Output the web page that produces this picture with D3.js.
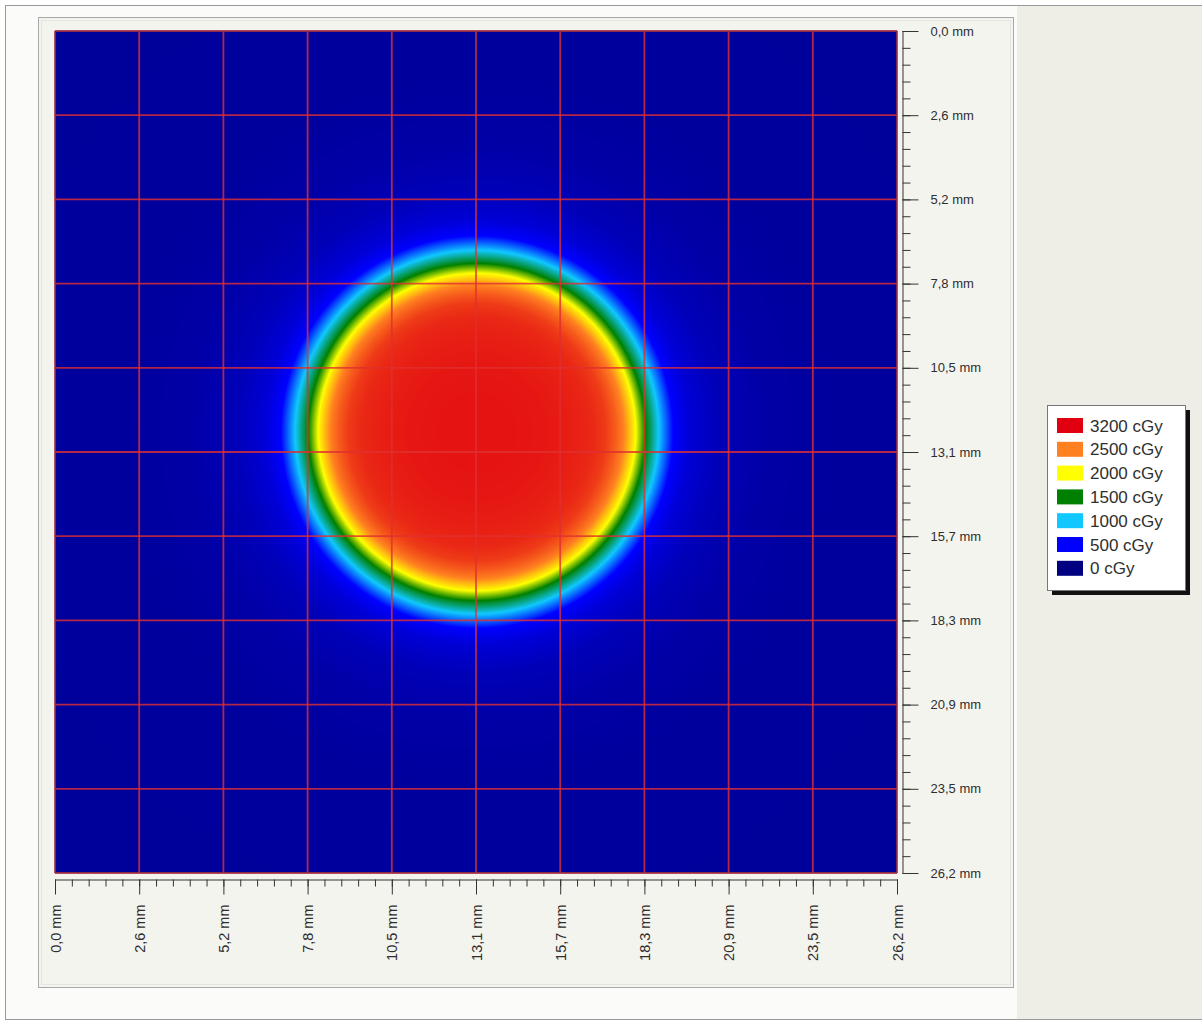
<!DOCTYPE html>
<html>
<head>
<meta charset="utf-8">
<script src="https://cdn.jsdelivr.net/npm/d3@7"></script>
<style>
  body { margin: 0; background: #ffffff; }
  svg { display: block; }
  .axis text { font-family: "Liberation Sans Narrow", "Arial Narrow", "Liberation Sans", sans-serif; font-size: 13px; fill: #2e2e2e; }
  .axis.bottom text { font-size: 14.5px; }
  .axis line, .axis path { stroke: #333; }
  .legend text { font-family: "Liberation Sans", Arial, sans-serif; font-size: 17px; fill: #2e2e2e; }
</style>
</head>
<body>
<div id="chart"></div>
<script>
// axis ticks (mm) and their labels
const tickValues = [0, 2.616, 5.232, 7.848, 10.464, 13.08, 15.696, 18.312, 20.928, 23.544, 26.16];
const tickLabels = ["0,0 mm", "2,6 mm", "5,2 mm", "7,8 mm", "10,5 mm", "13,1 mm",
  "15,7 mm", "18,3 mm", "20,9 mm", "23,5 mm", "26,2 mm"];

// legend dose levels and colours
const doseLevels = [3200, 2500, 2000, 1500, 1000, 500, 0];
const doseColors = ["#e00010", "#ff8020", "#ffff00", "#008000", "#10c8ff", "#0000ff", "#000080"];

// radial dose profile (radius in mm -> cGy)
const profileRadius = [0, 2.0, 3.0, 3.6, 4.0, 4.3, 4.55, 4.9, 5.24, 5.65, 6.1, 6.6, 7.5, 9, 11, 20];
const profileDose = [3100, 3080, 3030, 2980, 2880, 2700, 2500, 2050, 1500, 1000, 500, 340, 220, 150, 115, 100];

// field centre (mm)
const beamCenter = [13.11, 12.46];

const W = 1202, H = 1028;
const svg = d3.select("#chart").append("svg").attr("width", W).attr("height", H);

// frames
svg.append("rect").attr("x", 5.5).attr("y", 5.5).attr("width", 1210).attr("height", 1014)
  .attr("fill", "#fbfbf9").attr("stroke", "#9a9a9a");
svg.append("rect").attr("x", 1017).attr("y", 6).attr("width", 190).attr("height", 1013)
  .attr("fill", "#efeee6");
svg.append("rect").attr("x", 38.5).attr("y", 17.5).attr("width", 975).attr("height", 970)
  .attr("fill", "#f4f4ef").attr("stroke", "#a8a8a8");
svg.append("rect").attr("x", 41.5).attr("y", 20.5).attr("width", 969).attr("height", 964)
  .attr("fill", "none").attr("stroke", "#e4e4e0");

const x = d3.scaleLinear().domain([0, 26.16]).range([55, 897]);
const y = d3.scaleLinear().domain([0, 26.16]).range([31, 873]);

const profile = d3.scaleLinear().domain(profileRadius).range(profileDose).clamp(true);
const colorScale = d3.scaleLinear()
  .domain(doseLevels.slice().reverse())
  .range(doseColors.slice().reverse())
  .interpolate(d3.interpolateRgb)
  .clamp(true);

// colour lookup table per cGy
const lut = d3.range(0, 3201).map(d => d3.rgb(colorScale(d)));

// heat map raster
const pw = Math.round(x(26.16) - x(0)), ph = Math.round(y(26.16) - y(0));
const canvas = document.createElement("canvas");
canvas.width = pw; canvas.height = ph;
const ctx = canvas.getContext("2d");
const img = ctx.createImageData(pw, ph);
for (let j = 0; j < ph; j++) {
  const my = y.invert(y(0) + j + 0.5) - beamCenter[1];
  for (let i = 0; i < pw; i++) {
    const mx = x.invert(x(0) + i + 0.5) - beamCenter[0];
    const dose = profile(Math.sqrt(mx * mx + my * my));
    const c = lut[Math.max(0, Math.min(3200, Math.round(dose)))];
    const k = (j * pw + i) * 4;
    img.data[k] = c.r; img.data[k + 1] = c.g; img.data[k + 2] = c.b; img.data[k + 3] = 255;
  }
}
ctx.putImageData(img, 0, 0);

svg.append("image")
  .attr("x", x(0)).attr("y", y(0))
  .attr("width", pw).attr("height", ph)
  .attr("href", canvas.toDataURL());

// grid
const grid = svg.append("g").attr("stroke", "#e03030").attr("stroke-opacity", 0.8).attr("stroke-width", 1.8);
grid.selectAll(".v").data(tickValues).enter().append("line")
  .attr("x1", d => x(d)).attr("x2", d => x(d)).attr("y1", y(0)).attr("y2", y(26.16));
grid.selectAll(".h").data(tickValues).enter().append("line")
  .attr("y1", d => y(d)).attr("y2", d => y(d)).attr("x1", x(0)).attr("x2", x(26.16));

svg.append("rect").attr("x", x(0)).attr("y", y(0)).attr("width", pw).attr("height", ph)
  .attr("fill", "none").attr("stroke", "#30305a").attr("stroke-width", 0.6);

// minor ticks: 5 per major step
const minorTicks = d3.range(0, 51).map(i => i * 26.16 / 50);

// right axis
svg.append("g").attr("class", "axis").attr("transform", "translate(902.5,0)")
  .call(d3.axisRight(y).tickValues(minorTicks).tickSize(8).tickSizeOuter(0).tickFormat(""))
  .call(g => g.select(".domain").remove());
svg.append("g").attr("class", "axis").attr("transform", "translate(902.5,0)")
  .call(d3.axisRight(y).tickValues(tickValues).tickSize(16).tickSizeOuter(0).tickPadding(12)
    .tickFormat((d, i) => tickLabels[i]));

// bottom axis
svg.append("g").attr("class", "axis").attr("transform", "translate(0,879.5)")
  .call(d3.axisBottom(x).tickValues(minorTicks).tickSize(7).tickSizeOuter(0).tickFormat(""))
  .call(g => g.select(".domain").remove());
svg.append("g").attr("class", "axis bottom").attr("transform", "translate(0,879.5)")
  .call(d3.axisBottom(x).tickValues(tickValues).tickSize(15).tickSizeOuter(0)
    .tickFormat((d, i) => tickLabels[i]))
  .selectAll("text")
  .attr("transform", "rotate(-90)")
  .attr("text-anchor", "end")
  .attr("x", -25)
  .attr("y", 0)
  .attr("dy", "0.35em");

// legend
const legend = svg.append("g").attr("class", "legend").attr("transform", "translate(1047,405)");
legend.append("rect").attr("x", 5).attr("y", 5).attr("width", 138).attr("height", 185).attr("fill", "#111");
legend.append("rect").attr("x", 0.5).attr("y", 0.5).attr("width", 138).attr("height", 185)
  .attr("fill", "#ffffff").attr("stroke", "#777");
const item = legend.selectAll(".item").data(doseLevels).enter().append("g")
  .attr("transform", (d, i) => `translate(10,${13 + i * 23.8})`);
item.append("rect").attr("width", 26).attr("height", 15).attr("fill", (d, i) => doseColors[i]);
item.append("text").attr("x", 33).attr("y", 7.5).attr("dy", "0.36em").text(d => `${d} cGy`);
</script>
</body>
</html>
